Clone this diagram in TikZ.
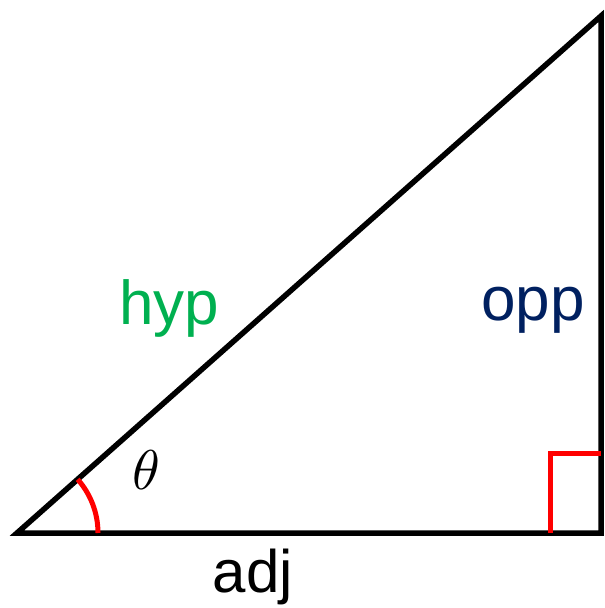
\documentclass[tikz,border=0pt]{standalone}
\usepackage{fontspec}
\setmainfont{Liberation Sans}
\usepackage{tikz}

\definecolor{hypgreen}{RGB}{0,176,80}
\definecolor{oppblue}{RGB}{0,32,96}

\begin{document}
\begin{tikzpicture}[
    x=1pt, y=-1pt,
    side/.style={draw=black, line width=5.5pt, line join=miter},
    anglemark/.style={draw=red, line width=5pt},
    sidelabel/.style={font=\fontsize{62}{70}\selectfont, inner sep=0pt, anchor=base}
    ]
    \useasboundingbox (0,0) rectangle (605,608);

    %Corners
    \coordinate (left_corner)   at (17,533);
    \coordinate (right_corner)  at (601,533);
    \coordinate (top_corner)    at (601,16);
    \coordinate (arc_start)     at (98,533);
    \coordinate (square_low)    at (550,533);
    \coordinate (square_mid)    at (550,453);
    \coordinate (square_high)   at (601,453);

    %Triangle
    \draw[side] (left_corner) -- (right_corner) -- (top_corner) -- cycle;

    %Angle marks
    \draw[anglemark] (arc_start) arc[start angle=0, end angle=-41.5, radius=81];
    \draw[anglemark] (square_low) -- (square_mid) -- (square_high);

    %Labels
    \node[sidelabel, text=hypgreen] (hyp_label) at (169,324) {hyp};
    \node[sidelabel, text=oppblue]  (opp_label) at (533,320) {opp};
    \node[sidelabel, font=\fontsize{60}{68}\selectfont] (adj_label) at (253,592) {adj};
    \node[scale=5.6, inner sep=0pt] (theta_label) at (146,470) {$\theta$};
\end{tikzpicture}
\end{document}
